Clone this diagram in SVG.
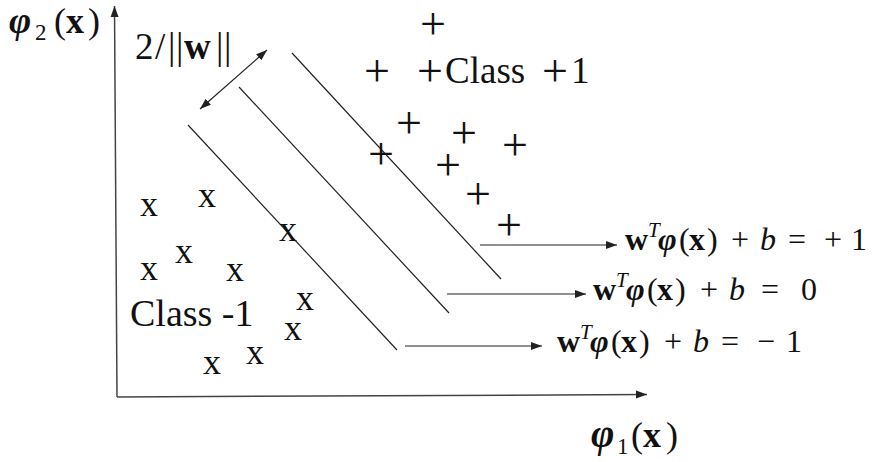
<svg xmlns="http://www.w3.org/2000/svg" width="877" height="462" viewBox="0 0 877 462" font-family="'Liberation Serif','Times New Roman',serif">
<defs>
<style>
.t{font-family:"Liberation Serif","Times New Roman",serif;fill:#111}
.pl{font-family:"Liberation Serif","Times New Roman",serif;font-size:46px;fill:#111}
.xm{font-family:"Liberation Serif","Times New Roman",serif;font-size:36px;fill:#111;text-anchor:middle}
.eq{font-family:"Liberation Serif","Times New Roman",serif;font-size:32px;fill:#111}
.ln{stroke:#222;stroke-width:1.2;fill:none}
.ax{stroke:#444;stroke-width:1.5;fill:none}
.b{font-weight:bold}
.i{font-style:italic}
.bi{font-weight:bold;font-style:italic}
</style>
<marker id="ah" markerWidth="12" markerHeight="10" refX="11" refY="5" orient="auto-start-reverse" markerUnits="userSpaceOnUse">
<path d="M0,1 L11,5 L0,9 Z" fill="#222"/>
</marker>
</defs>
<rect width="877" height="462" fill="#fff"/>

<g id="axes">
<line class="ax" x1="117" y1="397" x2="114.5" y2="6" marker-end="url(#ah)"/>
<line class="ax" x1="117" y1="397" x2="647" y2="394.5" marker-end="url(#ah)"/>
</g>

<g id="hyperplanes">
<line class="ln" x1="292" y1="53" x2="501" y2="279"/>
<line class="ln" x1="239" y1="87" x2="449" y2="313"/>
<line class="ln" x1="188" y1="125" x2="397" y2="350"/>
</g>

<g id="connectors">
<line class="ln" x1="200" y1="109" x2="267" y2="50" marker-start="url(#ah)" marker-end="url(#ah)"/>
<line class="ln" x1="480" y1="245" x2="617" y2="245" marker-end="url(#ah)"/>
<line class="ln" x1="447" y1="294" x2="586" y2="294" marker-end="url(#ah)"/>
<line class="ln" x1="405" y1="346" x2="542" y2="346" marker-end="url(#ah)"/>
</g>

<g id="class-plus">
<text class="pl" x="420" y="39" font-size="42">+</text>
<text class="pl" x="364" y="86">+</text>
<text class="pl" x="396" y="138">+</text>
<text class="pl" x="451" y="148">+</text>
<text class="pl" x="502" y="160">+</text>
<text class="pl" x="368" y="169">+</text>
<text class="pl" x="435" y="180">+</text>
<text class="pl" x="465" y="209">+</text>
<text class="pl" x="496" y="240">+</text>
</g>

<g id="class-plus-label">
<text class="t" y="83" font-size="37"><tspan x="417" font-size="46" dy="3">+</tspan><tspan x="445" dy="-3">Class</tspan><tspan x="542" font-size="46" dy="3">+</tspan><tspan x="571" dy="-3">1</tspan></text>
</g>

<g id="class-minus">
<text class="xm" x="149" y="216">x</text>
<text class="xm" x="207" y="207">x</text>
<text class="xm" x="288" y="241">x</text>
<text class="xm" x="184" y="263">x</text>
<text class="xm" x="149" y="280">x</text>
<text class="xm" x="235" y="281">x</text>
<text class="xm" x="305" y="310">x</text>
<text class="xm" x="293" y="340">x</text>
<text class="xm" x="255" y="364">x</text>
<text class="xm" x="212" y="374">x</text>
</g>

<g id="class-minus-label">
<text class="t" x="130" y="326" font-size="38">Class -1</text>
</g>

<g id="margin-label">
<text class="t" y="59" font-size="37"><tspan x="135">2</tspan><tspan x="155">/</tspan><tspan x="168">|</tspan><tspan x="176">|</tspan><tspan x="184" class="b">w</tspan><tspan x="216">|</tspan><tspan x="224">|</tspan></text>
</g>

<g id="axis-y-label">
<text class="t" y="33" font-size="36"><tspan x="9" class="bi" font-size="38">φ</tspan><tspan x="35" font-size="23" dy="7">2</tspan><tspan x="54" dy="-7">(</tspan><tspan x="66" class="b">x</tspan><tspan x="88">)</tspan></text>
</g>

<g id="axis-x-label">
<text class="t" y="447" font-size="36"><tspan x="591" class="bi" font-size="40">φ</tspan><tspan x="617" font-size="23" dy="7">1</tspan><tspan x="631" dy="-7">(</tspan><tspan x="643" class="b">x</tspan><tspan x="666">)</tspan></text>
</g>

<g id="eq-plus">
<text class="eq" y="250"><tspan x="625" class="b">w</tspan><tspan x="648" class="i" font-size="21" dy="-13">T</tspan><tspan x="658" class="bi" dy="13">φ</tspan><tspan x="679">(</tspan><tspan x="689" class="b">x</tspan><tspan x="707">)</tspan><tspan x="731">+</tspan><tspan x="760" class="i">b</tspan><tspan x="788">=</tspan><tspan x="824">+</tspan><tspan x="851">1</tspan></text>
</g>

<g id="eq-zero">
<text class="eq" y="300"><tspan x="593" class="b">w</tspan><tspan x="616" class="i" font-size="21" dy="-13">T</tspan><tspan x="626" class="bi" dy="13">φ</tspan><tspan x="647">(</tspan><tspan x="657" class="b">x</tspan><tspan x="675">)</tspan><tspan x="700">+</tspan><tspan x="729" class="i">b</tspan><tspan x="761">=</tspan><tspan x="801">0</tspan></text>
</g>

<g id="eq-minus">
<text class="eq" y="352"><tspan x="557" class="b">w</tspan><tspan x="580" class="i" font-size="21" dy="-13">T</tspan><tspan x="590" class="bi" dy="13">φ</tspan><tspan x="611">(</tspan><tspan x="621" class="b">x</tspan><tspan x="639">)</tspan><tspan x="664">+</tspan><tspan x="693" class="i">b</tspan><tspan x="721">=</tspan><tspan x="757">−</tspan><tspan x="786">1</tspan></text>
</g>
</svg>
